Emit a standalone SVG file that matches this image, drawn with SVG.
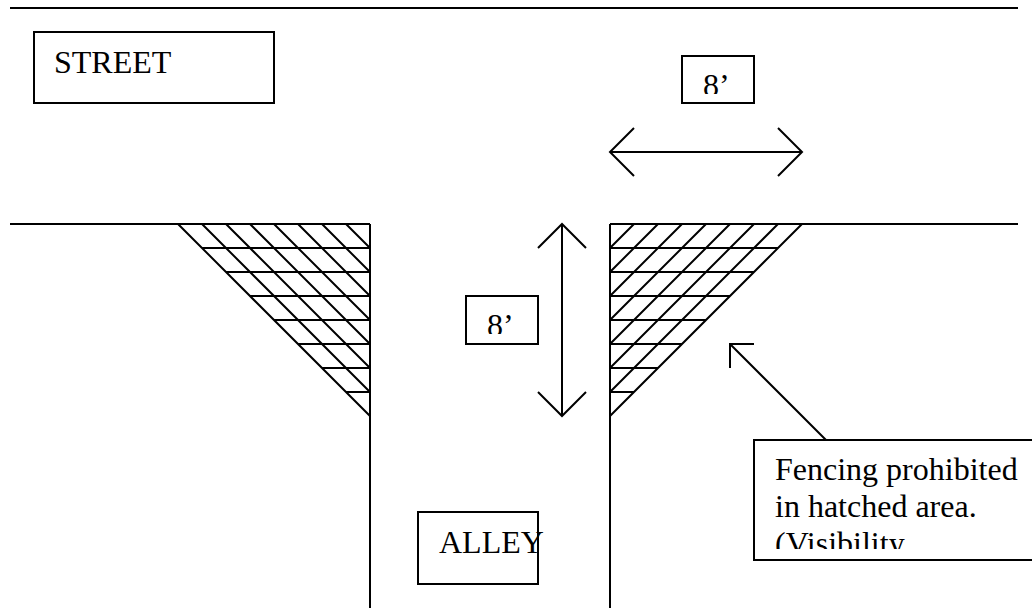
<svg xmlns="http://www.w3.org/2000/svg" width="1032" height="609" viewBox="0 0 1032 609">
<style>
.l{fill:none;stroke:#000;stroke-width:2;stroke-linecap:butt;stroke-linejoin:miter}
.b{fill:#fff;stroke:#000;stroke-width:2}
text{font-family:"Liberation Serif","Times New Roman",serif;font-size:32px;fill:#000}
</style>
<defs><clipPath id="c8a"><rect x="684" y="58" width="68" height="36"/></clipPath><clipPath id="c8b"><rect x="468" y="298" width="68" height="36"/></clipPath><clipPath id="cf"><rect x="756" y="442" width="276" height="107"/></clipPath></defs>
<rect width="1032" height="609" fill="#fff"/>
<g id="connectors" class="l">
<path d="M10 8H1018M10 224H370M610 224H1018M370 224V608M610 224V608"/>
<g id="hatch-left"><path d="M178 224L370 416M202 224L370 392M226 224L370 368M250 224L370 344M274 224L370 320M298 224L370 296M322 224L370 272M346 224L370 248"/>
<path d="M202 248H370M226 272H370M250 296H370M274 320H370M298 344H370M322 368H370M346 392H370"/></g>
<g id="hatch-right"><path d="M802 224L610 416M778 224L610 392M754 224L610 368M730 224L610 344M706 224L610 320M682 224L610 296M658 224L610 272M634 224L610 248"/>
<path d="M778 248H610M754 272H610M730 296H610M706 320H610M682 344H610M658 368H610M634 392H610"/></g>
<path id="dim-h" d="M610 152H802M634 128L610 152L634 176M778 128L802 152L778 176"/>
<path id="dim-v" d="M562 224V416M538 248L562 224L586 248M538 392L562 416L586 392"/>
<path id="pointer" d="M826 440L730 344M730 368V344H754"/>
</g>
<g id="street"><rect class="b" x="34" y="32" width="240" height="71"/><text x="54" y="73">STREET</text></g>
<g id="dim-label-top"><rect class="b" x="682" y="56" width="72" height="47"/><text x="703" y="96" clip-path="url(#c8a)">8’</text></g>
<g id="dim-label-side"><rect class="b" x="466" y="296" width="72" height="48"/><text x="487" y="336" clip-path="url(#c8b)">8’</text></g>
<g id="alley"><rect class="b" x="418" y="512" width="120" height="72"/><text x="439" y="553">ALLEY</text></g>
<g id="note"><rect class="b" x="754" y="440" width="290" height="120"/><g clip-path="url(#cf)"><text x="775" y="480">Fencing prohibited</text><text x="775" y="517">in hatched area.</text><text x="775" y="554">(Visibility</text></g></g>
</svg>
